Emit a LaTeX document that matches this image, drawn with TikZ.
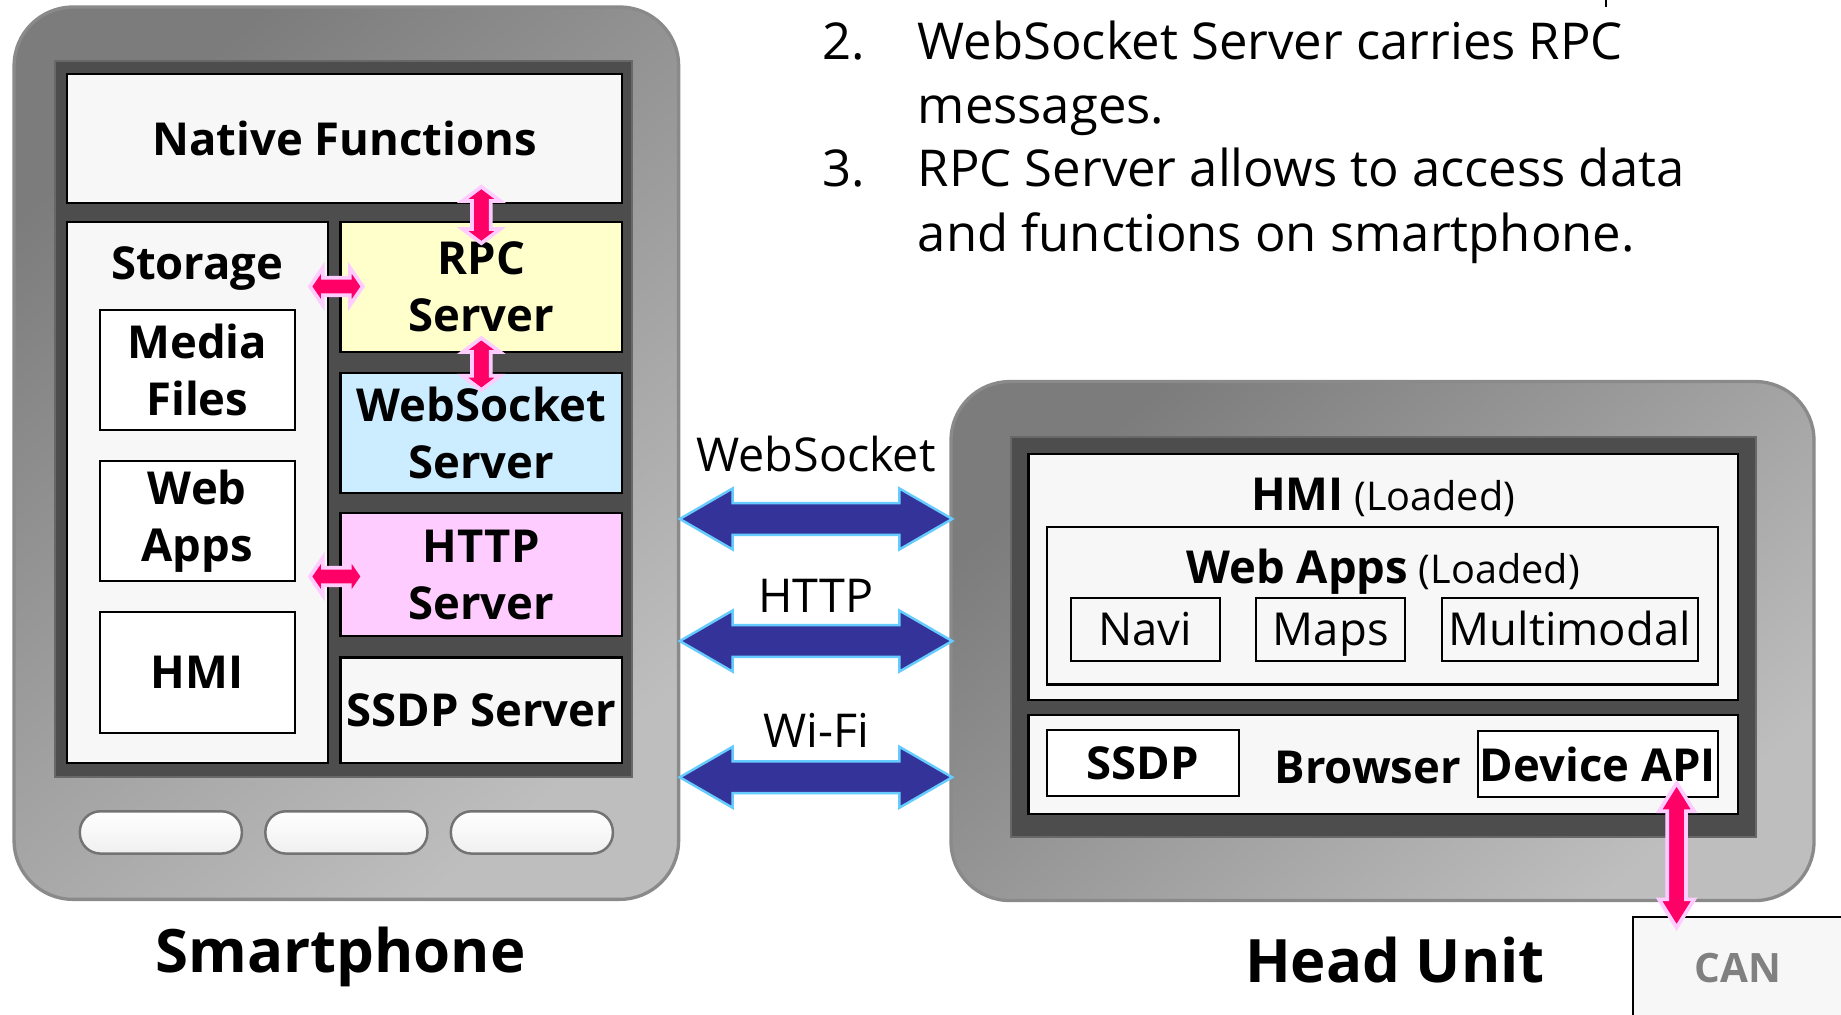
\documentclass[tikz,border=0pt]{standalone}
\usepackage{fontspec}
\setmainfont{Open Sans}
\usetikzlibrary{calc}
\definecolor{boxgray}{HTML}{F7F7F7}
\definecolor{screen}{HTML}{4D4D4D}
\definecolor{rpcy}{HTML}{FFFFCC}
\definecolor{wsb}{HTML}{CCECFF}
\definecolor{httpp}{HTML}{FFCCFF}
\definecolor{pinkarr}{HTML}{FF0066}
\definecolor{pinkedge}{HTML}{FFCCFF}
\definecolor{bluearr}{HTML}{333399}
\definecolor{blueedge}{HTML}{66CCFF}
\definecolor{shellA}{HTML}{7C7C7C}
\definecolor{shellB}{HTML}{BEBEBE}
\definecolor{shelledge}{HTML}{8A8A8A}
\definecolor{cangray}{HTML}{808080}
\newcommand\bx[7]{\node[#6, minimum width={(#4-#2)*0.01cm}, minimum height={(#5-#3)*0.01cm}] (#1) at ({(#2+#4)/2},{(#3+#5)/2}) {#7};}
% horizontal double block arrow: style, start, end, head length, head half width, shaft half width
\newcommand\hdarrow[6]{\path[#1] (#2) -- ($(#2)+(#4,-#5)$) -- ($(#2)+(#4,-#6)$) -- ($(#3)+(-#4,-#6)$) -- ($(#3)+(-#4,-#5)$) -- (#3) -- ($(#3)+(-#4,#5)$) -- ($(#3)+(-#4,#6)$) -- ($(#2)+(#4,#6)$) -- ($(#2)+(#4,#5)$) -- cycle;}
\newcommand\vdarrow[6]{\path[#1] (#2) -- ($(#2)+(-#5,#4)$) -- ($(#2)+(-#6,#4)$) -- ($(#3)+(-#6,-#4)$) -- ($(#3)+(-#5,-#4)$) -- (#3) -- ($(#3)+(#5,-#4)$) -- ($(#3)+(#6,-#4)$) -- ($(#2)+(#6,#4)$) -- ($(#2)+(#5,#4)$) -- cycle;}
\tikzset{
  shell/.style={draw=shelledge, line width=0.8pt, left color=shellA, right color=shellB, shading angle=40, rounded corners=0.5cm, inner sep=0pt},
  scr/.style={fill=screen, draw=screen!85!white, line width=0.5pt, inner sep=0pt},
  box/.style={draw=black, line width=0.5pt, fill=boxgray, inner sep=0pt, align=center, font=\bfseries\fontsize{11}{13.9}\selectfont},
  wbox/.style={box, fill=white},
  rbox/.style={draw=black, line width=0.5pt, fill=boxgray, inner sep=0pt, align=center, text height=7.9pt, text depth=0pt, font=\fontsize{11}{13.9}\selectfont},
  btn/.style={draw=gray!90!black, line width=0.6pt, top color=white, bottom color=gray!12, rounded corners=0.175cm, inner sep=0pt},
  lbl/.style={inner sep=0pt, font=\bfseries\fontsize{11}{13.9}\selectfont},
  big/.style={inner sep=0pt, font=\bfseries\fontsize{14.5}{17}\selectfont},
  linklbl/.style={inner sep=0pt, font=\fontsize{11.3}{13}\selectfont},
  toptext/.style={inner sep=0pt, anchor=base west, font=\fontsize{12.3}{15}\selectfont},
  pinka/.style={fill=pinkarr, draw=pinkedge, line width=0.9pt, line join=miter},
  bluea/.style={fill=bluearr, draw=blueedge, line width=0.6pt, line join=miter},
}
\begin{document}
\begin{tikzpicture}[x=0.01cm,y=-0.01cm]
\useasboundingbox (0,0) rectangle (1568,864);
\clip (0,0) rectangle (1568,864);
\fill[white] (0,0) rectangle (1568,864);

% ---------------- Smartphone ----------------
\bx{phone}{12}{6}{578}{766}{shell}{}
\bx{phscreen}{47}{52}{538}{662}{scr}{}
\bx{nf}{57}{63}{530}{173}{box}{Native Functions}
\bx{storage}{57}{189}{279}{650}{box}{}
\node[lbl, anchor=base] (storagelbl) at (168,238) {Storage};
\bx{media}{85}{264}{251}{366}{wbox}{Media\\Files}
\bx{webapps}{85}{393}{251}{495}{wbox}{Web\\Apps}
\bx{hmi}{85}{521}{251}{624}{wbox}{HMI}
\bx{rpc}{290}{189}{530}{300}{box, fill=rpcy}{RPC\\Server}
\bx{ws}{290}{318}{530}{420}{box, fill=wsb}{WebSocket\\Server}
\bx{http}{290}{437}{530}{542}{box, fill=httpp}{HTTP\\Server}
\bx{ssdp}{290}{560}{530}{650}{box}{SSDP Server}
\bx{btna}{68}{691}{206}{727}{btn}{}
\bx{btnb}{226}{691}{364}{727}{btn}{}
\bx{btnc}{384}{691}{522}{727}{btn}{}
\node[big, anchor=base] (phonelbl) at (290,828) {Smartphone};

% ---------------- Head Unit ----------------
\bx{hu}{810}{325}{1545}{767}{shell}{}
\bx{huscreen}{861}{372}{1496}{713}{scr}{}
\bx{huhmi}{876}{387}{1480}{596}{box}{}
\node[inner sep=0pt, anchor=base] (huhmilbl) at (1178,435) {{\bfseries\fontsize{11}{13}\selectfont HMI} {\fontsize{9.6}{12}\selectfont (Loaded)}};
\bx{huweb}{892}{449}{1463}{583}{box}{}
\node[inner sep=0pt, anchor=base] (huweblbl) at (1178,497) {{\bfseries\fontsize{11}{13}\selectfont Web Apps} {\fontsize{9.6}{12}\selectfont (Loaded)}};
\bx{navi}{912}{509}{1039}{563}{rbox}{Navi}
\bx{maps}{1070}{509}{1197}{563}{rbox}{Maps}
\bx{multi}{1228}{509}{1446}{563}{rbox}{Multimodal}
\bx{browser}{876}{609}{1480}{693}{box}{}
\node[lbl, anchor=base] (browserlbl) at (1165,667) {Browser};
\bx{hussdp}{892}{622}{1055}{678}{wbox}{SSDP}
\bx{devapi}{1259}{623}{1463}{679}{wbox}{Device API}
\node[big, anchor=base] (hulbl) at (1188,837) {Head Unit};
\bx{can}{1391}{781}{1590}{890}{box}{}
\node[inner sep=0pt, anchor=base, text=cangray, font=\bfseries\fontsize{9.8}{12}\selectfont] (canlbl) at (1480,837) {CAN};

% ---------------- top-right text ----------------
\draw[line width=0.55pt] (1368,0) -- (1368,6);
\node[toptext] (n2) at (700,51) {2.};
\node[toptext] (t2a) at (781,51) {WebSocket Server carries RPC};
\node[toptext] (t2b) at (781,105) {messages.};
\node[toptext] (n3) at (700,159) {3.};
\node[toptext] (t3a) at (781,159) {RPC Server allows to access data};
\node[toptext] (t3b) at (781,214) {and functions on smartphone.};

% ---------------- link arrows ----------------
\coordinate (wsL) at (579,442);   \coordinate (wsR) at (811,442);
\coordinate (htL) at (579,546);   \coordinate (htR) at (811,546);
\coordinate (wfL) at (579,662);   \coordinate (wfR) at (811,662);
\hdarrow{bluea}{wsL}{wsR}{45}{26}{13.5}
\hdarrow{bluea}{htL}{htR}{45}{26}{13.5}
\hdarrow{bluea}{wfL}{wfR}{45}{26}{13.5}
\node[linklbl, anchor=base] (wslbl) at (695,402) {WebSocket};
\node[linklbl, anchor=base] (htlbl) at (695,522) {HTTP};
\node[linklbl, anchor=base] (wflbl) at (695,637) {Wi-Fi};

% ---------------- pink arrows ----------------
\coordinate (p1a) at ($(rpc.north)+(0,-29)$);
\coordinate (p1b) at ($(rpc.north)+(0,19)$);
\coordinate (p2a) at ($(rpc.south)+(0,-13)$);
\coordinate (p2b) at ($(ws.north)+(0,15)$);
\coordinate (p3a) at (264,244);
\coordinate (p3b) at (309,244);
\coordinate (p4a) at (264,491);
\coordinate (p4b) at (309,491);
\coordinate (p5a) at (1428,667);
\coordinate (p5b) at (1428,790);
\vdarrow{pinka}{p1a}{p1b}{12}{16}{8}
\vdarrow{pinka}{p2a}{p2b}{12}{16}{8}
\hdarrow{pinka}{p3a}{p3b}{11}{16}{7.5}
\hdarrow{pinka}{p4a}{p4b}{11}{16}{7.5}
\vdarrow{pinka}{p5a}{p5b}{24}{15}{8}
\end{tikzpicture}
\end{document}
